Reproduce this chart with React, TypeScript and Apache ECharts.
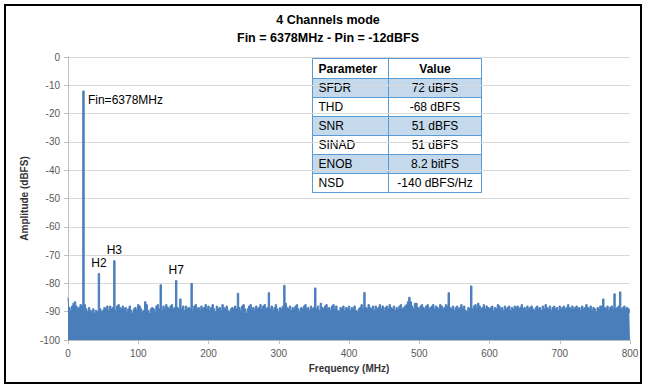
import React, { useEffect, useRef } from 'react';
import * as echarts from 'echarts';

const titleLines = ['4 Channels mode', 'Fin = 6378MHz - Pin = -12dBFS'];
const xAxisName = 'Frequency (MHz)';
const yAxisName = 'Amplitude (dBFS)';

// FFT bins every 2 MHz, 0..800 MHz
const freqStepMHz = 2;
const amplitudeDbfs: number[] = [
  // 0-38
  -85, -88.5, -89.5, -88, -87, -86.5, -88, -89, -88.5, -87.5, -88, -12, -87.5, -89, -90, -88.5, -89.5, -90, -89, -90.5,
  // 40-78
  -89.5, -90, -76.5, -89, -90, -89.5, -88.5, -89, -88, -89.5, -88, -89, -88.5, -72, -89.5, -88, -87.5, -88.5, -89, -88,
  // 80-118
  -89, -88.5, -90, -89, -88, -89.5, -90.5, -89, -88.5, -89.5, -87.5, -88, -89, -90, -89.5, -86.5, -87.5, -89.5, -90.5, -89,
  // 120-158
  -88.5, -89, -90, -88, -87.5, -89, -80.5, -89.5, -88, -89, -87.5, -88.5, -89, -88, -87.5, -89, -88.5, -79, -88.5, -89,
  // 160-198
  -85.5, -89, -88, -89.5, -88, -89, -88.5, -89, -80, -89.5, -88, -87.5, -89, -88.5, -89.5, -88, -89, -88.5, -87.5, -89,
  // 200-238
  -88, -89.5, -88.5, -87.5, -89, -90, -88, -89, -88.5, -89.5, -87.5, -88.5, -89, -88, -89.5, -90, -89, -88.5, -89, -88,
  // 240-278
  -89, -83.5, -88.5, -89.5, -88, -87.5, -89, -90.5, -89, -88, -87.5, -89, -88.5, -89.5, -88, -89, -88.5, -87.5, -89, -88,
  // 280-318
  -87.5, -89, -88.5, -83.3, -89, -88, -89.5, -88.5, -87.5, -89, -90, -88.5, -89, -88, -80.7, -87, -88.5, -89, -88, -89.5,
  // 320-358
  -88.5, -89, -88, -87.5, -89, -90, -88.5, -89, -88, -87.5, -89, -88.5, -89.5, -88, -89, -88.5, -81.6, -89, -88, -89.5,
  // 360-398
  -87, -88.5, -89, -88, -87.5, -89, -88.5, -89.5, -88, -87.5, -89, -88, -89.5, -90, -88.5, -89, -88, -89.5, -88.5, -89,
  // 400-438
  -88, -89.5, -88.5, -89, -88, -89.5, -90, -89, -88.5, -87.5, -89, -83.2, -88.5, -89, -87.5, -88.5, -89, -88, -89.5, -88,
  // 440-478
  -89, -88.5, -87.5, -89, -88, -89.5, -88.5, -88, -89, -87.5, -88.5, -89, -88, -89.5, -88.5, -89, -88, -87.5, -89, -88.5,
  // 480-518
  -88, -87.5, -86.5, -84.9, -86.5, -88, -89, -87, -87, -88.5, -89, -88, -87.5, -88.5, -89, -88, -87.5, -89, -88.5, -88,
  // 520-558
  -87.5, -89, -88, -88.5, -89, -87.5, -88, -89, -88.5, -87.5, -88, -83.3, -88.5, -89, -88, -89.5, -88.5, -88, -89, -88.5,
  // 560-598
  -87.5, -89, -88, -89.5, -90, -88.5, -89, -80.9, -89, -88, -87.5, -88.5, -87, -88, -89, -88.5, -87.5, -89, -88, -88.5,
  // 600-638
  -89, -88.5, -88, -89.5, -88.5, -89, -87.5, -88, -89, -88.5, -89.5, -88, -89, -88.5, -88, -89.5, -88.5, -89, -88, -88.5,
  // 640-678
  -88, -89, -88.5, -87.5, -89, -88.5, -89.5, -88, -89, -88.5, -88, -89, -89.5, -88.5, -88, -89, -88.5, -89.5, -88, -89,
  // 680-718
  -87.5, -88.5, -89, -88, -89.5, -88.5, -88, -89, -88.5, -89.5, -88, -89, -88.5, -88, -89, -88.5, -87.5, -88.5, -89, -88,
  // 720-758
  -89, -88.5, -88, -89, -88.5, -89.5, -88, -89, -88.5, -87.5, -88.5, -89, -88, -89.5, -88.5, -89, -90, -88.5, -89, -88,
  // 760-798
  -88, -85.5, -88.5, -89, -88, -89.5, -88.5, -88, -89, -83.7, -89, -88.5, -88, -83, -89, -88.5, -88, -89, -88.5, -89,
  // 800
  -90.5,
];

const fundamentalLabel = 'Fin=6378MHz';
const fundamentalFreq = 22;
const harmonicLabels = ['H2', 'H3', 'H7'];
const harmonicFreqs = [44, 66, 154];

const xMin = 0, xMax = 800, xInterval = 100;
const yMin = -100, yMax = 0, yInterval = 10;

const tableHeader = ['Parameter', 'Value'];
const tableParams = ['SFDR', 'THD', 'SNR', 'SINAD', 'ENOB', 'NSD'];
const tableValues = ['72 dBFS', '-68 dBFS', '51 dBFS', '51 dBFS', '8.2 bitFS', '-140 dBFS/Hz'];

const FONT = '"Liberation Sans", Arial, sans-serif';
const BLUE = '#4a7ebb';

function ampAt(freq: number) {
  return amplitudeDbfs[Math.round(freq / freqStepMHz)];
}

export default function App() {
  const ref = useRef<HTMLDivElement>(null);

  useEffect(() => {
    document.body.style.margin = '0';
    if (!ref.current) return;
    const chart = echarts.init(ref.current, null, { renderer: 'svg' });

    const seriesData = amplitudeDbfs.map((v, i) => [i * freqStepMHz, v]);

    // table layout
    const tx = 312.5, ty = 58.5, tw = 169, headerH = 20, rowH = 19, colX = 388.5;
    const tableEls: any[] = [];
    const th = headerH + rowH * tableParams.length;
    tableEls.push({ type: 'rect', shape: { x: tx, y: ty, width: tw, height: th }, style: { fill: '#fff' } });
    tableParams.forEach((_, i) => {
      if (i % 2 === 0) {
        tableEls.push({ type: 'rect', shape: { x: tx, y: ty + headerH + i * rowH, width: tw, height: rowH }, style: { fill: '#c4daec' } });
      }
    });
    for (let i = 0; i <= tableParams.length; i++) {
      const y = ty + headerH + i * rowH;
      tableEls.push({ type: 'line', shape: { x1: tx, y1: y, x2: tx + tw, y2: y }, style: { stroke: '#5b9bd5', lineWidth: 1 } });
    }
    tableEls.push({ type: 'line', shape: { x1: colX, y1: ty, x2: colX, y2: ty + th }, style: { stroke: '#5b9bd5', lineWidth: 1 } });
    tableEls.push({ type: 'rect', shape: { x: tx, y: ty, width: tw, height: th }, style: { fill: 'none', stroke: '#5b9bd5', lineWidth: 1 } });
    tableEls.push({ type: 'text', style: { text: tableHeader[0], x: tx + 6, y: ty + headerH / 2, verticalAlign: 'middle', align: 'left', font: `bold 12px ${FONT}`, fill: '#000' } });
    tableEls.push({ type: 'text', style: { text: tableHeader[1], x: (colX + tx + tw) / 2, y: ty + headerH / 2, verticalAlign: 'middle', align: 'center', font: `bold 12px ${FONT}`, fill: '#000' } });
    tableParams.forEach((p, i) => {
      const cy = ty + headerH + i * rowH + rowH / 2;
      tableEls.push({ type: 'text', style: { text: p, x: tx + 6, y: cy, verticalAlign: 'middle', align: 'left', font: `12px ${FONT}`, fill: '#000' } });
      tableEls.push({ type: 'text', style: { text: tableValues[i], x: (colX + tx + tw) / 2, y: cy, verticalAlign: 'middle', align: 'center', font: `12px ${FONT}`, fill: '#000' } });
    });

    const markData: any[] = [
      {
        coord: [fundamentalFreq, ampAt(fundamentalFreq)],
        label: { show: true, formatter: fundamentalLabel, position: 'right', distance: 4, offset: [0, 9] },
      },
      ...harmonicLabels.map((h, i) => ({
        coord: [harmonicFreqs[i], ampAt(harmonicFreqs[i])],
        label: { show: true, formatter: h, position: 'top', distance: 4 },
      })),
    ];

    chart.setOption({
      animation: false,
      grid: { left: 68, right: 16, top: 57, bottom: 48 },
      xAxis: {
        type: 'value',
        min: xMin,
        max: xMax,
        interval: xInterval,
        name: xAxisName,
        nameLocation: 'middle',
        nameGap: 23,
        nameTextStyle: { fontFamily: FONT, fontSize: 10, fontWeight: 'bold', color: '#333' },
        axisLine: { show: true, onZero: false, lineStyle: { color: '#bfbfbf' } },
        axisTick: { show: true, length: 4, lineStyle: { color: '#bfbfbf' } },
        axisLabel: { fontFamily: FONT, fontSize: 10, color: '#595959', margin: 8 },
        splitLine: { show: false },
      },
      yAxis: {
        type: 'value',
        min: yMin,
        max: yMax,
        interval: yInterval,
        name: yAxisName,
        nameLocation: 'middle',
        nameGap: 37,
        nameTextStyle: { fontFamily: FONT, fontSize: 10, fontWeight: 'bold', color: '#333' },
        axisLine: { show: true, lineStyle: { color: '#bfbfbf' } },
        axisTick: { show: true, length: 4, lineStyle: { color: '#bfbfbf' } },
        axisLabel: { fontFamily: FONT, fontSize: 10, color: '#595959', margin: 8 },
        splitLine: { show: true, lineStyle: { color: '#d9d9d9' } },
      },
      series: [
        {
          type: 'line',
          data: seriesData,
          step: 'middle',
          symbol: 'none',
          lineStyle: { color: BLUE, width: 1 },
          areaStyle: { color: BLUE, opacity: 1, origin: 'start' },
          itemStyle: { color: BLUE },
          markPoint: {
            symbol: 'circle',
            symbolSize: 1,
            itemStyle: { color: 'rgba(0,0,0,0)' },
            label: { fontFamily: FONT, fontSize: 12, color: '#000' },
            data: markData,
          },
        },
      ],
      graphic: [
        {
          type: 'rect',
          z: 200,
          shape: { x: 5, y: 5, width: 636, height: 378 },
          style: { fill: 'none', stroke: '#000', lineWidth: 2 },
        },
        {
          type: 'text',
          z: 200,
          style: { text: titleLines[0], x: 328, y: 20, align: 'center', verticalAlign: 'middle', font: `bold 12.5px ${FONT}`, fill: '#000' },
        },
        {
          type: 'text',
          z: 200,
          style: { text: titleLines[1], x: 328, y: 38, align: 'center', verticalAlign: 'middle', font: `bold 12.5px ${FONT}`, fill: '#000' },
        },
        { type: 'group', z: 150, children: tableEls },
      ],
    });

    return () => chart.dispose();
  }, []);

  return <div ref={ref} style={{ width: 646, height: 388 }} />;
}
